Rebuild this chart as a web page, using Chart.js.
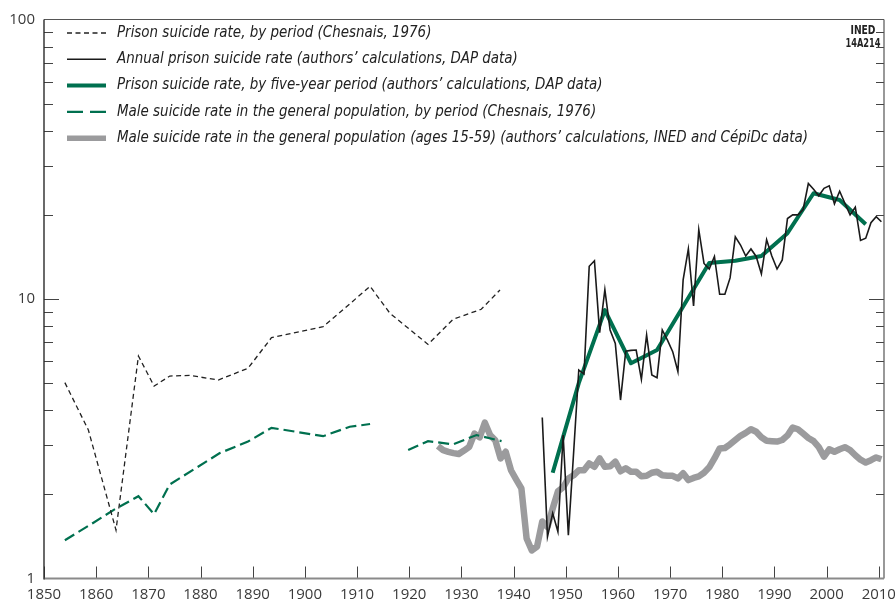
<!DOCTYPE html>
<html>
<head>
<meta charset="utf-8">
<script src="https://cdn.jsdelivr.net/npm/chart.js@4.4.1/dist/chart.umd.min.js"></script>
<style>
  html, body { margin: 0; padding: 0; background: #fff; }
  canvas { display: block; }
</style>
</head>
<body>
<canvas id="chart" width="895" height="604"></canvas>
<script>
// Axis ticks
const xTicks = [1850, 1860, 1870, 1880, 1890, 1900, 1910, 1920, 1930, 1940, 1950, 1960, 1970, 1980, 1990, 2000, 2010];
const yTicks = [1, 10, 100];

// Prison suicide rate, by period (Chesnais, 1976)
const chesnaisPrisonYears = [1854, 1858.5, 1863.8, 1868.1, 1871.1, 1874.1, 1878, 1883.4, 1889.1, 1893.6, 1903.5, 1907.7, 1912.5, 1916.3, 1923.6, 1928.4, 1933.8, 1937.4];
const chesnaisPrisonRate = [5.02, 3.40, 1.49, 6.25, 4.88, 5.30, 5.33, 5.13, 5.65, 7.27, 7.96, 9.29, 11.1, 8.89, 6.88, 8.46, 9.19, 10.77];

// Annual prison suicide rate (DAP data), mid-year
const annualPrisonYears = [1945.5, 1946.5, 1947.5, 1948.5, 1949.5, 1950.5, 1951.5, 1952.5, 1953.5, 1954.5,
  1955.5, 1956.5, 1957.5, 1958.5, 1959.5, 1960.5, 1961.5, 1962.5, 1963.5, 1964.5,
  1965.5, 1966.5, 1967.5, 1968.5, 1969.5, 1970.5, 1971.5, 1972.5, 1973.5, 1974.5,
  1975.5, 1976.5, 1977.5, 1978.5, 1979.5, 1980.5, 1981.5, 1982.5, 1983.5, 1984.5,
  1985.5, 1986.5, 1987.5, 1988.5, 1989.5, 1990.5, 1991.5, 1992.5, 1993.5, 1994.5,
  1995.5, 1996.5, 1997.5, 1998.5, 1999.5, 2000.5, 2001.5, 2002.5, 2003.5, 2004.5,
  2005.5, 2006.5, 2007.5, 2008.5, 2009.5, 2010.5];
const annualPrisonRate = [3.77, 1.41, 1.71, 1.47, 3.26, 1.43, 2.8, 5.57, 5.39, 13.1,
  13.7, 7.58, 10.8, 7.75, 6.94, 4.35, 6.51, 6.55, 6.57, 5.16,
  7.43, 5.35, 5.23, 7.75, 7.13, 6.48, 5.5, 11.7, 15.1, 9.44,
  17.7, 13.4, 12.8, 14.2, 10.4, 10.4, 11.9, 16.7, 15.6, 14.25,
  15.1, 14.2, 12.3, 16.3, 14.25, 12.8, 13.8, 19.4, 20.0, 20.0,
  20.9, 25.9, 24.7, 23.4, 24.9, 25.4, 21.9, 24.3, 22.0, 20.0,
  21.3, 16.2, 16.5, 18.75, 19.7, 18.9];

// Prison suicide rate, by five-year period
const fiveYearYears = [1947.5, 1952.5, 1957.5, 1962.5, 1967.5, 1972.5, 1977.5, 1982.5, 1987.5, 1992.5, 1997.5, 2002.5, 2007.5];
const fiveYearRate = [2.39, 5.0, 9.12, 5.89, 6.57, 9.4, 13.45, 13.7, 14.25, 17.2, 23.9, 22.6, 18.5];

// Male suicide rate, by period (Chesnais, 1976) - null = gap
const chesnaisMaleYears = [1854, 1859.4, 1863.6, 1868.1, 1871.1, 1874.1, 1883.7, 1889.1, 1893.6, 1903.5, 1908.6, 1912.5, 1916, 1919.8, 1923.6, 1928.4, 1932.9, 1937.7];
const chesnaisMaleRate = [1.37, 1.58, 1.77, 1.97, 1.70, 2.17, 2.81, 3.09, 3.46, 3.23, 3.49, 3.57, null, 2.88, 3.10, 3.02, 3.26, 3.10];

// Male suicide rate, ages 15-59 (INED, CepiDc), mid-year
const maleYears = [1925.5, 1926.5, 1927.5, 1928.5, 1929.5, 1930.5, 1931.5, 1932.5, 1933.5, 1934.5,
  1935.5, 1936.5, 1937.5, 1938.5, 1939.5, 1940.5, 1941.5, 1942.5, 1943.5, 1944.5,
  1945.5, 1946.5, 1947.5, 1948.5, 1949.5, 1950.5, 1951.5, 1952.5, 1953.5, 1954.5,
  1955.5, 1956.5, 1957.5, 1958.5, 1959.5, 1960.5, 1961.5, 1962.5, 1963.5, 1964.5,
  1965.5, 1966.5, 1967.5, 1968.5, 1969.5, 1970.5, 1971.5, 1972.5, 1973.5, 1974.5,
  1975.5, 1976.5, 1977.5, 1978.5, 1979.5, 1980.5, 1981.5, 1982.5, 1983.5, 1984.5,
  1985.5, 1986.5, 1987.5, 1988.5, 1989.5, 1990.5, 1991.5, 1992.5, 1993.5, 1994.5,
  1995.5, 1996.5, 1997.5, 1998.5, 1999.5, 2000.5, 2001.5, 2002.5, 2003.5, 2004.5,
  2005.5, 2006.5, 2007.5, 2008.5, 2009.5, 2010.5];
const maleRate = [2.98, 2.88, 2.84, 2.81, 2.79, 2.87, 2.96, 3.30, 3.20, 3.61,
  3.26, 3.12, 2.69, 2.84, 2.44, 2.26, 2.10, 1.39, 1.26, 1.30,
  1.60, 1.53, 1.78, 2.05, 2.12, 2.28, 2.34, 2.44, 2.44, 2.58,
  2.51, 2.69, 2.51, 2.52, 2.62, 2.42, 2.48, 2.41, 2.41, 2.32,
  2.33, 2.39, 2.41, 2.34, 2.33, 2.33, 2.28, 2.38, 2.25, 2.29,
  2.32, 2.39, 2.50, 2.69, 2.92, 2.93, 3.02, 3.13, 3.24, 3.32,
  3.42, 3.35, 3.20, 3.11, 3.10, 3.09, 3.13, 3.25, 3.47, 3.42,
  3.30, 3.18, 3.10, 2.95, 2.73, 2.90, 2.84, 2.90, 2.95, 2.88,
  2.76, 2.66, 2.60, 2.65, 2.71, 2.67];

const pts = (xs, ys) => xs.map((x, i) => ({ x: x, y: ys[i] }));

const GREEN = '#00704f';
const GREY = '#9b9b9d';
const INK = '#222';

const narrow = '"Liberation Sans Narrow", "DejaVu Sans Condensed", "Open Sans", sans-serif';
const legendFont = 'italic 15px ' + narrow;
const tickFont = { family: '"Open Sans", "Noto Sans", sans-serif', size: 15 };

// draw text squeezed to a given width
function squeezed(ctx, text, x, y, width, align) {
  const w = ctx.measureText(text).width;
  const sx = width / w;
  ctx.save();
  ctx.translate(align === 'center' ? x - width / 2 : x, y);
  ctx.scale(sx, 1);
  ctx.textAlign = 'left';
  ctx.fillText(text, 0, 0);
  ctx.restore();
}

// frame, inward ticks, legend and figure code
const decor = {
  id: 'decor',
  afterDraw(chart) {
    const { ctx, chartArea: a, scales: { x, y } } = chart;
    ctx.save();
    ctx.setLineDash([]);

    // y ticks (log minor marks) on both sides
    ctx.strokeStyle = '#444';
    ctx.lineWidth = 1;
    for (let d = 1; d < 100; d *= 10) {
      for (let k = 1; k <= 9; k++) {
        const v = d * k;
        if (v === 1) continue;
        const py = Math.round(y.getPixelForValue(v)) + 0.5;
        const major = k === 1;
        ctx.beginPath();
        ctx.moveTo(a.left, py);
        ctx.lineTo(a.left + (major ? 15 : 9), py);
        ctx.moveTo(a.right, py);
        ctx.lineTo(a.right - (major ? 15 : 8), py);
        ctx.stroke();
      }
    }
    // x ticks, pointing up
    x.ticks.forEach(t => {
      const px = Math.round(x.getPixelForValue(t.value)) + 0.5;
      ctx.beginPath();
      ctx.moveTo(px, a.bottom);
      ctx.lineTo(px, a.bottom - 12);
      ctx.stroke();
    });

    // frame
    ctx.lineWidth = 1.2;
    ctx.strokeStyle = '#555';
    ctx.beginPath();
    ctx.moveTo(a.left, a.top); ctx.lineTo(a.right, a.top);
    ctx.moveTo(a.right, a.top); ctx.lineTo(a.right, a.bottom);
    ctx.stroke();
    ctx.strokeStyle = '#8a8a8a';
    ctx.lineWidth = 1.8;
    ctx.beginPath();
    ctx.moveTo(a.left, a.bottom); ctx.lineTo(a.right, a.bottom);
    ctx.stroke();
    ctx.strokeStyle = '#2a2a2a';
    ctx.lineWidth = 1.4;
    ctx.beginPath();
    ctx.moveTo(a.left, a.top); ctx.lineTo(a.left, a.bottom + 1);
    ctx.stroke();

    // legend
    const ds = chart.data.datasets;
    ctx.font = legendFont;
    let widest = 0;
    ds.forEach(d => { widest = Math.max(widest, ctx.measureText(d.label).width); });
    const sx = 691 / widest;
    ds.forEach((d, i) => {
      const ly = 33 + i * 26.3;
      ctx.save();
      ctx.strokeStyle = d.borderColor;
      ctx.lineWidth = d.legendWidth || d.borderWidth;
      ctx.setLineDash(d.legendDash || d.borderDash || []);
      ctx.beginPath();
      ctx.moveTo(67, ly);
      ctx.lineTo(106, ly);
      ctx.stroke();
      ctx.restore();
      ctx.save();
      ctx.fillStyle = INK;
      ctx.font = legendFont;
      ctx.textBaseline = 'middle';
      ctx.translate(117, ly);
      ctx.scale(sx, 1);
      ctx.fillText(d.label, 0, 0);
      ctx.restore();
    });

    // figure code
    ctx.fillStyle = INK;
    ctx.font = 'bold 13px ' + narrow;
    ctx.textBaseline = 'middle';
    squeezed(ctx, 'INED', 863, 31, 25, 'center');
    squeezed(ctx, '14A214', 863, 43.5, 35, 'center');
    ctx.restore();
  }
};

new Chart(document.getElementById('chart'), {
  type: 'line',
  data: {
    datasets: [
      {
        label: 'Prison suicide rate, by period (Chesnais, 1976)',
        data: pts(chesnaisPrisonYears, chesnaisPrisonRate),
        borderColor: INK, borderWidth: 1.3, borderDash: [5, 3.5], order: 1
      },
      {
        label: 'Annual prison suicide rate (authors\u2019 calculations, DAP data)',
        data: pts(annualPrisonYears, annualPrisonRate),
        borderColor: '#1a1a1a', borderWidth: 1.6, order: 0
      },
      {
        label: 'Prison suicide rate, by five-year period (authors\u2019 calculations, DAP data)',
        data: pts(fiveYearYears, fiveYearRate),
        borderColor: GREEN, borderWidth: 4, borderJoinStyle: 'round', order: 3
      },
      {
        label: 'Male suicide rate in the general population, by period (Chesnais, 1976)',
        data: pts(chesnaisMaleYears, chesnaisMaleRate),
        borderColor: GREEN, borderWidth: 2.2, borderDash: [11, 5], legendDash: [16, 7], order: 2, spanGaps: false
      },
      {
        label: 'Male suicide rate in the general population (ages 15-59) (authors\u2019 calculations, INED and C\u00e9piDc data)',
        data: pts(maleYears, maleRate),
        borderColor: GREY, borderWidth: 6.5, borderJoinStyle: 'round', legendWidth: 5.5, order: 4
      }
    ]
  },
  options: {
    responsive: false,
    animation: false,
    layout: { padding: { top: 19.5, right: 11, left: 0, bottom: 0 } },
    elements: { point: { radius: 0 }, line: { tension: 0, fill: false } },
    plugins: { legend: { display: false }, tooltip: { enabled: false } },
    scales: {
      x: {
        type: 'linear', min: 1850, max: 2011,
        border: { display: false },
        grid: { display: false, drawTicks: false },
        afterBuildTicks: s => { s.ticks = xTicks.map(v => ({ value: v })); },
        afterFit: s => { s.height = 25.5; s.paddingLeft = 0; s.paddingRight = 0; },
        ticks: { callback: v => String(v), font: tickFont, color: '#3a3a3a', padding: 7, maxRotation: 0, autoSkip: false }
      },
      y: {
        type: 'logarithmic', min: 1, max: 100,
        border: { display: false },
        grid: { display: false, drawTicks: false },
        afterBuildTicks: s => { s.ticks = yTicks.map(v => ({ value: v })); },
        afterFit: s => { s.width = 44; s.paddingTop = 0; s.paddingBottom = 0; },
        ticks: { callback: v => String(v), font: tickFont, color: '#3a3a3a', padding: 9 }
      }
    }
  },
  plugins: [decor]
});
</script>
</body>
</html>
